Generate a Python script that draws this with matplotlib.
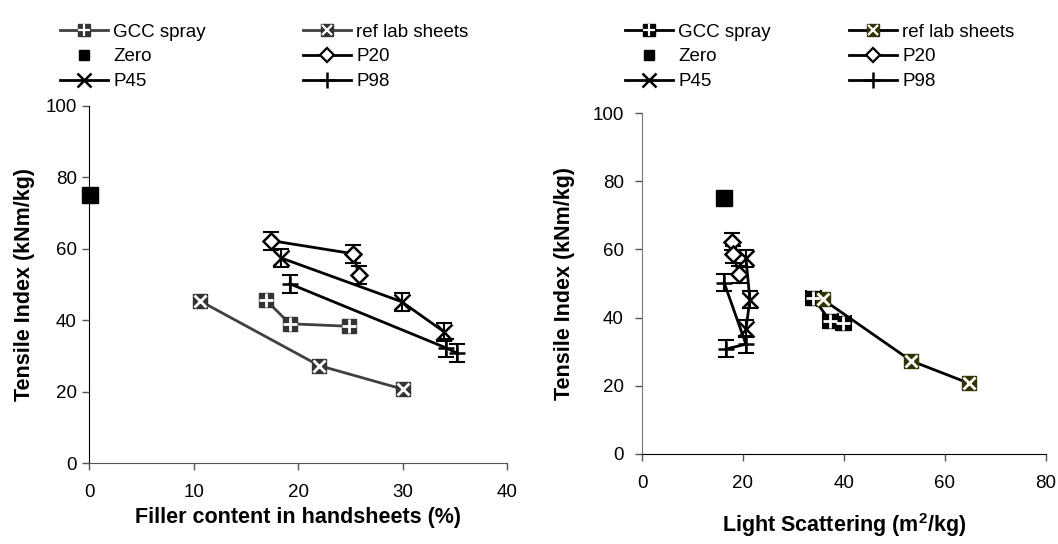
import matplotlib
matplotlib.use("Agg")
import matplotlib.pyplot as plt
from matplotlib.lines import Line2D
from matplotlib.legend_handler import HandlerTuple

plt.rcParams['font.family'] = ['Liberation Sans', 'DejaVu Sans']
plt.rcParams['mathtext.fontset'] = 'custom'
plt.rcParams['mathtext.rm'] = 'Liberation Sans'
plt.rcParams['mathtext.bf'] = 'Liberation Sans:bold'

# ---- data ----
series = ["GCC spray", "ref lab sheets", "Zero", "P20", "P45", "P98"]
tensile_gcc = [45.7, 39.0, 38.3]
tensile_ref = [45.4, 27.3, 20.7]
tensile_zero = [75.2]
tensile_p20 = [62.3, 58.6, 52.7]
tensile_p45 = [57.4, 45.2, 36.7]
tensile_p98 = [50.2, 32.2, 30.8]

filler_gcc = [16.9, 19.2, 24.9]
filler_ref = [10.6, 22.0, 30.0]
filler_zero = [0.1]
filler_p20 = [17.4, 25.3, 25.8]
filler_p45 = [18.4, 29.9, 34.0]
filler_p98 = [19.2, 34.2, 35.2]

scatter_gcc = [34.0, 37.3, 39.9]
scatter_ref = [35.8, 53.4, 64.9]
scatter_zero = [16.3]
scatter_p20 = [17.8, 18.1, 19.2]
scatter_p45 = [20.6, 21.4, 20.6]
scatter_p98 = [16.3, 20.6, 16.7]

err_ti = 2.5
err_ls_gcc = 1.5

x_ticks_left = [0, 10, 20, 30, 40]
x_ticks_right = [0, 20, 40, 60, 80]
y_ticks = [0, 20, 40, 60, 80, 100]

W, H = 1058, 544
fig = plt.figure(figsize=(W / 100, H / 100), dpi=100)

ax1 = fig.add_axes([89.3 / W, 1 - 463 / H, (507 - 89.3) / W, (463 - 106) / H])
ax2 = fig.add_axes([642 / W, 1 - 454 / H, (1045.5 - 642) / W, (454 - 113) / H])


def draw(ax, xg, xr, xz, x20, x45, x98, refcol, gcccol, linecol, xerr_gcc=None):
    # lines
    ax.plot(xg, tensile_gcc, color=linecol, lw=2, zorder=2)
    ax.plot(xr, tensile_ref, color=linecol, lw=2, zorder=2)
    ax.plot(x20, tensile_p20, color='black', lw=2, zorder=2)
    ax.plot(x45, tensile_p45, color='black', lw=2, zorder=2)
    ax.plot(x98, tensile_p98, color='black', lw=2, zorder=2)
    # error bars
    for xs, ys in [(x20, tensile_p20), (x45, tensile_p45), (x98, tensile_p98)]:
        ax.errorbar(xs, ys, yerr=err_ti, fmt='none', ecolor='black', elinewidth=1.5,
                    capsize=5.5, capthick=1.5, zorder=3)
    if xerr_gcc is not None:
        ax.errorbar(xg, tensile_gcc, xerr=xerr_gcc, fmt='none', ecolor='black', elinewidth=1.5,
                    capsize=5.5, capthick=1.5, zorder=3)
    # markers
    ax.plot(xg, tensile_gcc, ls='none', marker='s', ms=10, mfc=gcccol, mec=gcccol, zorder=4)
    ax.plot(xg, tensile_gcc, ls='none', marker='+', ms=10, mew=2, color='white', zorder=5)
    ax.plot(xr, tensile_ref, ls='none', marker='s', ms=10, mfc=refcol, mec=refcol, zorder=4)
    ax.plot(xr, tensile_ref, ls='none', marker='x', ms=9, mew=2, color='white', zorder=5)
    ax.plot(xz, tensile_zero, ls='none', marker='s', ms=11.5, mfc='black', mec='black', zorder=4,
            clip_on=False)
    ax.plot(x20, tensile_p20, ls='none', marker='D', ms=8.5, mfc='white', mec='black', mew=1.8, zorder=4)
    ax.plot(x45, tensile_p45, ls='none', marker='x', ms=11, mew=1.8, color='black', zorder=4)
    ax.plot(x98, tensile_p98, ls='none', marker='+', ms=11, mew=1.8, color='black', zorder=4)

    ax.set_ylim(0, 100)
    ax.set_yticks(y_ticks)
    for s in ['top', 'right']:
        ax.spines[s].set_visible(False)
    ax.tick_params(axis='both', direction='out', length=5, width=1, labelsize=13.5, colors='#555555',
                   labelcolor='black')
    ax.tick_params(axis='x', pad=10)
    ax.set_ylabel("Tensile Index (kNm/kg)", fontsize=15.5, fontweight='bold')
    ax.yaxis.label.set_va('center')

    # legend handles
    h_gcc = (Line2D([], [], color=linecol, lw=2, marker='s', ms=8, mfc=gcccol, mec=gcccol),
             Line2D([], [], ls='none', marker='+', ms=8, mew=1.6, color='white'))
    h_ref = (Line2D([], [], color=linecol, lw=2, marker='s', ms=8, mfc=refcol, mec=refcol),
             Line2D([], [], ls='none', marker='x', ms=7, mew=1.6, color='white'))
    h_zero = Line2D([], [], ls='none', marker='s', ms=7, mfc='black', mec='black')
    h_20 = Line2D([], [], color='black', lw=2, marker='D', ms=7, mfc='white', mec='black', mew=1.6)
    h_45 = Line2D([], [], color='black', lw=2, marker='x', ms=10, mew=1.8)
    h_98 = Line2D([], [], color='black', lw=2, marker='+', ms=11, mew=1.8)
    return [h_gcc, h_zero, h_45, h_ref, h_20, h_98]


hl = draw(ax1, filler_gcc, filler_ref, filler_zero, filler_p20, filler_p45, filler_p98,
          '#333333', '#333333', '#404040')
ax1.set_xlim(0, 40)
ax1.set_xticks(x_ticks_left)
ax1.set_xlabel("Filler content in handsheets (%)", fontsize=15.5, fontweight='bold')
ax1.xaxis.label.set_va('center')
ax1.xaxis.set_label_coords(0.5, -(517 - 463) / (463 - 106))
ax1.yaxis.set_label_coords(-0.156, 0.5)
ax1.tick_params(axis='y', pad=4)
ax1.spines['left'].set_color('black')
ax1.spines['bottom'].set_color('#555555')

hr = draw(ax2, scatter_gcc, scatter_ref, scatter_zero, scatter_p20, scatter_p45, scatter_p98,
          '#333300', 'black', 'black', xerr_gcc=err_ls_gcc)
ax2.set_xlim(0, 80)
ax2.set_xticks(x_ticks_right)
ax2.set_xlabel("Light Scattering (m$^\\mathbf{2}$/kg)", fontsize=15.5, fontweight='bold')
ax2.xaxis.label.set_va('center')
ax2.xaxis.set_label_coords(0.5, -(525 - 454) / (454 - 113))
ax2.yaxis.set_label_coords(-0.191, 0.5)
ax2.tick_params(axis='y', pad=8)
ax2.spines['left'].set_color('#777777')
ax2.spines['bottom'].set_color('black')

labels = ["GCC spray", "Zero", "P45", "ref lab sheets", "P20", "P98"]
legkw = dict(ncol=2, frameon=False, fontsize=13.5, handlelength=2.56, handletextpad=0.27,
             labelspacing=0.41, borderaxespad=0, borderpad=0,
             loc='upper left', handler_map={tuple: HandlerTuple(ndivide=1)})
fig.legend(hl, labels, bbox_to_anchor=(60 / W, 1 - 23.5 / H), columnspacing=5.2, **legkw)
fig.legend(hr, labels, bbox_to_anchor=(625 / W, 1 - 23.5 / H), columnspacing=4.2, **legkw)

fig.savefig("out.png", dpi=100)
